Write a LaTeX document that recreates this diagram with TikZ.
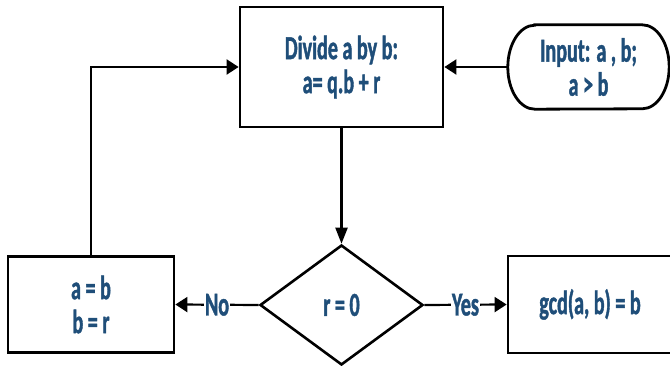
\documentclass[tikz,border=0pt]{standalone}
\usepackage{fontspec}
\newfontfamily\lblfont{Carlito}[FakeStretch=0.6, FakeBold=1.2]
\usetikzlibrary{arrows.meta,shapes.geometric}
\definecolor{txtblue}{HTML}{1F4E79}
\tikzset{
  lbltext/.style={text=txtblue, font=\lblfont\bfseries\fontsize{33.5}{34}\selectfont, align=center},
  procbox/.style={lbltext, draw=black, line width=2.8pt, inner sep=0pt},
  decision/.style={lbltext, shape=diamond, draw=black, line width=2.6pt, inner sep=0pt, aspect=1.36},
  conn/.style={line width=2.2pt, -{Triangle[length=12pt,width=15pt]}},
  vconn/.style={line width=2.2pt, -{Triangle[length=16pt,width=12pt]}},
  edgelbl/.style={lbltext, fill=white, inner sep=0.6pt},
}
\begin{document}
\begin{tikzpicture}[x=1pt,y=1pt]
\useasboundingbox (0,0) rectangle (670,366);
\clip (0,0) rectangle (670,366);
\node[procbox, minimum width=203pt, minimum height=120pt] (divide) at (341.5,299) {Divide a by b:\\ a= q.b + r};
\node[lbltext, inner sep=0pt, minimum width=161pt, minimum height=84pt] (input) at (588.5,299) {Input: a , b;\\ a > b};
\draw[line width=2.8pt] ([xshift=27pt]input.north west) -- ([xshift=-27pt]input.north east)
  arc[start angle=90, end angle=-90, x radius=27pt, y radius=42pt]
  -- ([xshift=27pt]input.south west)
  arc[start angle=270, end angle=90, x radius=27pt, y radius=42pt] -- cycle;
\node[decision, minimum width=163pt, minimum height=120pt] (test) at (341.5,61) {r = 0};
\node[procbox, minimum width=166pt, minimum height=96pt] (update) at (91,61.5) {a = b\\ b = r};
\node[procbox, minimum width=164pt, minimum height=97pt] (result) at (590,61.5) {gcd(a, b) = b};
\draw[conn] (input.west) -- (divide.east);
\draw[vconn] (divide.south) -- (test.north);
\draw[conn] (test.west) -- node[edgelbl] (nolbl) {No} (update.east);
\draw[conn] (test.east) -- node[edgelbl] (yeslbl) {Yes} (result.west);
\draw[conn] (update.north) |- (divide.west);
\end{tikzpicture}
\end{document}
